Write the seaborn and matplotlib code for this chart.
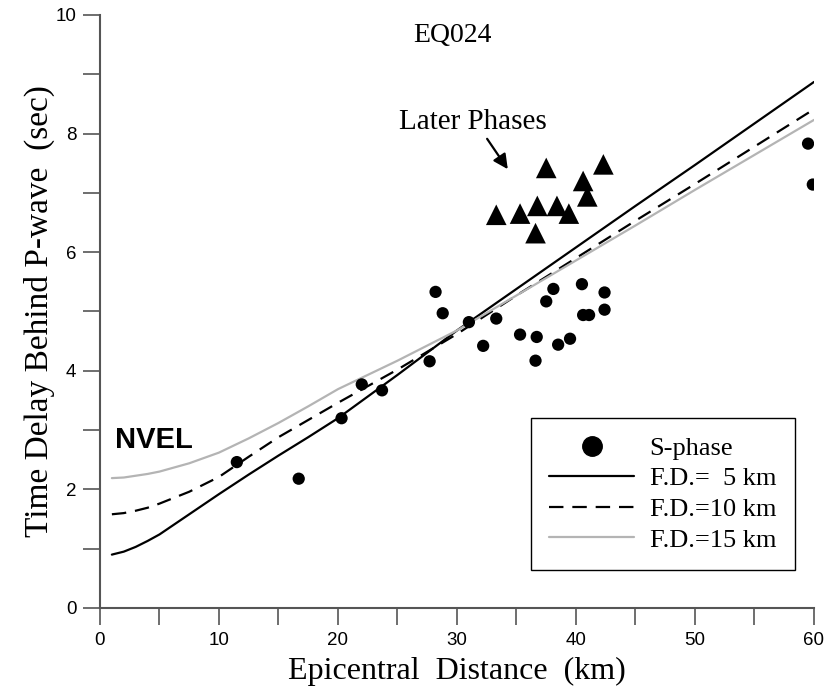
import numpy as np
import pandas as pd
import seaborn as sns
import matplotlib.pyplot as plt
from matplotlib.ticker import MultipleLocator
from matplotlib.lines import Line2D

# S-phase picks (km, sec)
s_dist = [11.5, 16.7, 20.3, 22.0, 23.7, 27.7, 28.2, 28.8, 31.0, 32.2, 33.3,
          35.3, 36.7, 36.6, 37.5, 38.1, 38.5, 39.5, 40.5, 40.6, 41.1, 42.4,
          42.4, 59.5, 59.9]
s_delay = [2.46, 2.18, 3.20, 3.77, 3.67, 4.16, 5.33, 4.97, 4.82, 4.42, 4.88,
           4.61, 4.57, 4.17, 5.17, 5.38, 4.44, 4.54, 5.46, 4.94, 4.94, 5.03,
           5.32, 7.83, 7.14]

# later phases (triangles)
lp_dist = [33.3, 35.3, 36.75, 38.4, 39.4, 36.6, 37.5, 42.3, 40.6, 40.95]
lp_delay = [6.63, 6.65, 6.78, 6.78, 6.65, 6.32, 7.42, 7.48, 7.20, 6.94]

# model curves for three focal depths
fd_dist = [1, 2, 3, 4, 5, 7.5, 10, 12.5, 15, 17.5, 20, 25, 30, 35, 40, 45, 50, 55, 60]
fd5_delay = [0.90, 0.95, 1.03, 1.13, 1.24, 1.58, 1.92, 2.25, 2.57, 2.88, 3.20,
             3.93, 4.68, 5.38, 6.08, 6.78, 7.47, 8.17, 8.87]
fd10_delay = [1.58, 1.60, 1.64, 1.69, 1.76, 1.96, 2.21, 2.55, 2.88, 3.17, 3.46,
              4.02, 4.62, 5.27, 5.90, 6.53, 7.15, 7.78, 8.41]
fd15_delay = [2.19, 2.20, 2.23, 2.26, 2.30, 2.44, 2.62, 2.86, 3.12, 3.40, 3.69,
              4.17, 4.68, 5.27, 5.86, 6.45, 7.05, 7.64, 8.23]

sns.set_style("ticks")
plt.rcParams['font.family'] = ['Liberation Serif', 'DejaVu Serif']
plt.rcParams['text.color'] = 'black'
plt.rcParams['axes.labelcolor'] = 'black'

fig = plt.figure(figsize=(8.29, 6.88), dpi=100)
ax = fig.add_axes([0.1206, 0.1163, 0.8613, 0.862])

df_s = pd.DataFrame({'dist': s_dist, 'delay': s_delay})
df_lp = pd.DataFrame({'dist': lp_dist, 'delay': lp_delay})
df_fd = pd.DataFrame({'dist': fd_dist, 'fd5': fd5_delay,
                      'fd10': fd10_delay, 'fd15': fd15_delay})

dash = (0, (6.5, 4))
sns.lineplot(data=df_fd, x='dist', y='fd5', ax=ax, color='black', lw=1.6,
             sort=False, estimator=None)
sns.lineplot(data=df_fd, x='dist', y='fd10', ax=ax, color='black', lw=1.6,
             linestyle=dash, sort=False, estimator=None)
sns.lineplot(data=df_fd, x='dist', y='fd15', ax=ax, color='#b4b4b4', lw=1.6,
             sort=False, estimator=None)
sns.scatterplot(data=df_s, x='dist', y='delay', ax=ax, color='black', s=78,
                edgecolor='none', zorder=3)
sns.scatterplot(data=df_lp, x='dist', y='delay', ax=ax, color='black', marker='^',
                s=220, edgecolor='none', zorder=3)

ax.set_xlim(0, 60)
ax.set_ylim(0, 10)
ax.xaxis.set_major_locator(MultipleLocator(10))
ax.xaxis.set_minor_locator(MultipleLocator(5))
ax.yaxis.set_major_locator(MultipleLocator(2))
ax.yaxis.set_minor_locator(MultipleLocator(1))
ax.tick_params(which='both', direction='out', length=12, width=1.2, color='#555555')
ax.tick_params(which='major', labelsize=13.5, pad=5, labelcolor='black')
for lbl in ax.get_xticklabels() + ax.get_yticklabels():
    lbl.set_fontfamily('Liberation Sans')

for side in ['top', 'right']:
    ax.spines[side].set_visible(False)
for side in ['left', 'bottom']:
    ax.spines[side].set_color('#555555')
    ax.spines[side].set_linewidth(1.5)

ax.set_xlabel('Epicentral  Distance  (km)', fontsize=23, labelpad=6)
ax.set_ylabel('Time Delay Behind P-wave  (sec)', fontsize=24, labelpad=0)

ax.text(29.6, 9.66, 'EQ024', fontsize=20, ha='center', va='center')
ax.text(31.3, 8.2, 'Later Phases', fontsize=21, ha='center', va='center')
ax.annotate('', xy=(34.4, 7.36), xytext=(32.4, 7.95),
            arrowprops=dict(arrowstyle='-|>', color='black', lw=1.6, mutation_scale=22))
ax.text(1.3, 2.83, 'NVEL', fontsize=21, fontweight='bold', family='Liberation Sans',
        color='black', ha='left', va='center')

handles = [Line2D([], [], marker='o', color='black', ls='none', markersize=14),
           Line2D([], [], color='black', lw=1.6),
           Line2D([], [], color='black', lw=1.6, linestyle=dash),
           Line2D([], [], color='#b4b4b4', lw=1.6)]
labels = ['S-phase', 'F.D.=  5 km', 'F.D.=10 km', 'F.D.=15 km']
leg = ax.legend(handles, labels, loc='lower right', bbox_to_anchor=(0.973, 0.064),
                borderaxespad=0, fontsize=19, frameon=True, fancybox=False,
                framealpha=1, edgecolor='black', handlelength=3.2, handletextpad=0.6,
                labelspacing=0.27, borderpad=0.7)
leg.get_frame().set_linewidth(1.0)

fig.savefig('out.png', dpi=100)
